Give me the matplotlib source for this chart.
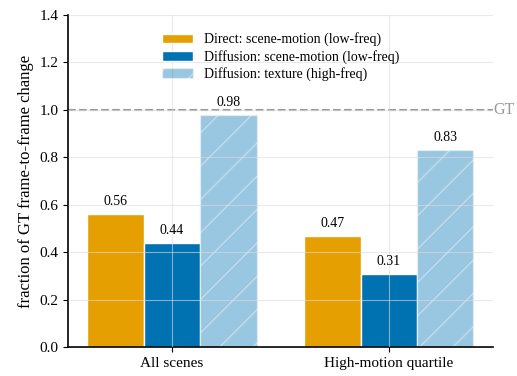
import matplotlib.pyplot as plt
import numpy as np

plt.rcParams['font.family'] = ['Liberation Serif', 'DejaVu Serif']

# fraction of GT change per condition
groups = ['All scenes', 'High-motion quartile']
direct_motion = [0.56, 0.47]
diff_motion = [0.44, 0.31]
diff_texture = [0.98, 0.83]
gt_level = 1.0

orange = '#E69F00'
blue = '#0072B2'

fig = plt.figure(figsize=(5.17, 3.76), dpi=100)
ax = fig.add_axes([0.1315, 0.077, 0.822, 0.883])

x = np.arange(len(groups))
w = 0.26

b1 = ax.bar(x - w, direct_motion, w, color=orange, edgecolor='white', linewidth=1,
            label='Direct: scene-motion (low-freq)')
b2 = ax.bar(x, diff_motion, w, color=blue, edgecolor='white', linewidth=1,
            label='Diffusion: scene-motion (low-freq)')
b3 = ax.bar(x + w, diff_texture, w, color=blue, alpha=0.4, edgecolor='white',
            hatch='/', linewidth=1, label='Diffusion: texture (high-freq)')

for bars, vals in [(b1, direct_motion), (b2, diff_motion), (b3, diff_texture)]:
    for rect, v in zip(bars, vals):
        ax.text(rect.get_x() + rect.get_width() / 2, v + 0.025, f'{v:.2f}',
                ha='center', va='bottom', fontsize=10)

ax.axhline(gt_level, color='#999999', ls='--', lw=1.5)
ax.text(1.0, gt_level, 'GT', transform=ax.get_yaxis_transform(), color='#999999',
        va='center', ha='left', fontsize=11.5, clip_on=False)

ax.set_xticks(x)
ax.set_xticklabels(groups, fontsize=11)
ax.set_xlim(-0.48, 1.48)
ax.set_ylim(0, 1.4)
ax.set_yticks(np.arange(0, 1.41, 0.2))
ax.tick_params(axis='y', labelsize=11)
ax.set_ylabel('fraction of GT frame-to-frame change', fontsize=12)
ax.grid(True, color='#dddddd', alpha=0.6, lw=0.8)
ax.set_axisbelow(False)
for s in ['top', 'right']:
    ax.spines[s].set_visible(False)
ax.spines['left'].set_linewidth(1.2)
ax.spines['bottom'].set_linewidth(1.2)

ax.legend(loc='upper center', frameon=False, fontsize=10, handlelength=2.2,
          labelspacing=0.25, bbox_to_anchor=(0.5, 0.985))

fig.savefig('out.png', dpi=100)
